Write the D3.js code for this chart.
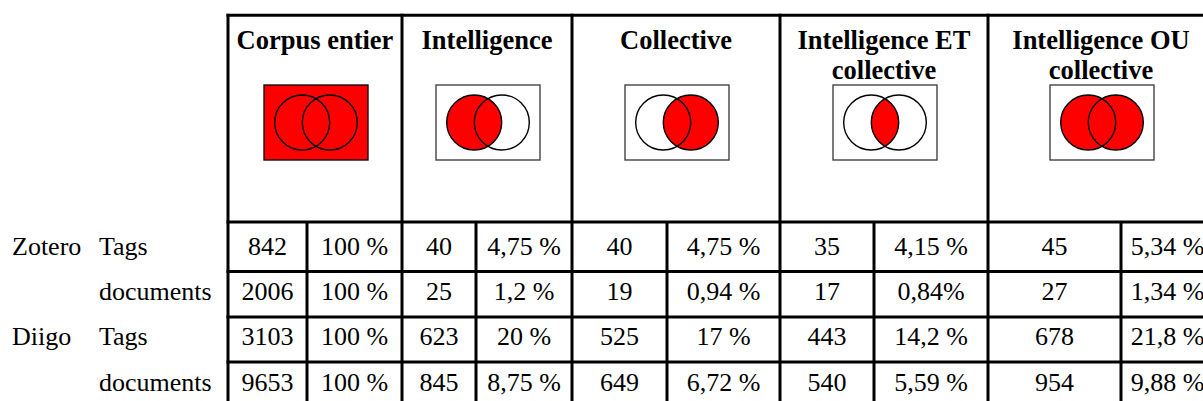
<!DOCTYPE html>
<html>
<head>
<meta charset="utf-8">
<script src="https://cdn.jsdelivr.net/npm/d3@7"></script>
<style>
  body { margin: 0; background: #fff; }
  text { font-family: "Liberation Serif", "Times New Roman", serif; fill: #000; }
</style>
</head>
<body>
<svg id="chart"></svg>
<script>
// column headers (one entry per line) and venn shading mode
const headers = [["Corpus entier"], ["Intelligence"], ["Collective"], ["Intelligence ET", "collective"], ["Intelligence OU", "collective"]];
const vennModes = ["all", "left", "right", "and", "or"];

// row labels
const sources = ["Zotero", "", "Diigo", ""];
const kinds = ["Tags", "documents", "Tags", "documents"];

// values: count + share, one entry per header column
const counts = [
    [842, 40, 40, 35, 45],
    [2006, 25, 19, 17, 27],
    [3103, 623, 525, 443, 678],
    [9653, 845, 649, 540, 954]
];
const shares = [
    ["100 %", "4,75 %", "4,75 %", "4,15 %", "5,34 %"],
    ["100 %", "1,2 %", "0,94 %", "0,84%", "1,34 %"],
    ["100 %", "20 %", "17 %", "14,2 %", "21,8 %"],
    ["100 %", "8,75 %", "6,72 %", "5,59 %", "9,88 %"]
];

const w = 1203, h = 401;
const svg = d3.select("#chart").attr("width", w).attr("height", h);

// table grid
const colEdges = [228, 402, 572, 780, 988, 1214];
const subEdges = [307, 476, 667, 874, 1121];
const tableTop = 15.3, headBottom = 222;
const rowEdges = [222, 271.5, 317, 362, 407.5];
const lw = 3;

const g = svg.append("g");

// horizontal lines
[tableTop, ...rowEdges].forEach(y => {
    g.append("line")
        .attr("x1", colEdges[0] - lw / 2).attr("x2", w + 20)
        .attr("y1", y).attr("y2", y)
        .attr("stroke", "#000").attr("stroke-width", lw);
});
// column lines
colEdges.forEach(x => {
    g.append("line")
        .attr("x1", x).attr("x2", x)
        .attr("y1", tableTop - lw / 2).attr("y2", h + 20)
        .attr("stroke", "#000").attr("stroke-width", lw);
});
subEdges.forEach(x => {
    g.append("line")
        .attr("x1", x).attr("x2", x)
        .attr("y1", headBottom).attr("y2", h + 20)
        .attr("stroke", "#000").attr("stroke-width", lw);
});

// headers
const defs = svg.append("defs");
headers.forEach((lines, i) => {
    const cx = (colEdges[i] + colEdges[i + 1]) / 2;
    const t = svg.append("text")
        .attr("text-anchor", "middle")
        .style("font-size", "26.5px")
        .style("font-weight", "bold");
    lines.forEach((ln, j) => {
        t.append("tspan").attr("x", cx).attr("y", 49 + j * 29.5).text(ln);
    });

    // venn diagram
    const vx = cx + 1, vy = 122.5;
    const rw = 104, rh = 75, r = 27.5, off = 13.8;
    const mode = vennModes[i];
    const vg = svg.append("g");
    vg.append("rect")
        .attr("x", vx - rw / 2).attr("y", vy - rh / 2)
        .attr("width", rw).attr("height", rh)
        .attr("fill", mode === "all" ? "#ff0000" : "#fff")
        .attr("stroke", mode === "all" ? "#111" : "#444")
        .attr("stroke-width", 1.4);
    const lx = vx - off, rx = vx + off;
    if (mode === "left" || mode === "or")
        vg.append("circle").attr("cx", lx).attr("cy", vy).attr("r", r).attr("fill", "#ff0000");
    if (mode === "right" || mode === "or")
        vg.append("circle").attr("cx", rx).attr("cy", vy).attr("r", r).attr("fill", "#ff0000");
    if (mode === "and") {
        const id = "clip" + i;
        defs.append("clipPath").attr("id", id)
            .append("circle").attr("cx", lx).attr("cy", vy).attr("r", r);
        vg.append("circle").attr("cx", rx).attr("cy", vy).attr("r", r)
            .attr("fill", "#ff0000").attr("clip-path", `url(#${id})`);
    }
    [lx, rx].forEach(c => {
        vg.append("circle").attr("cx", c).attr("cy", vy).attr("r", r)
            .attr("fill", "none").attr("stroke", "#000").attr("stroke-width", 1.4);
    });
});

// body rows
counts.forEach((row, i) => {
    const y = rowEdges[i + 1] - 17;
    svg.append("text").attr("x", 12).attr("y", y)
        .style("font-size", "26px").text(sources[i]);
    svg.append("text").attr("x", 99).attr("y", y)
        .style("font-size", "26px").text(kinds[i]);
    row.forEach((v, j) => {
        const a = colEdges[j], m = subEdges[j], b = colEdges[j + 1];
        svg.append("text").attr("x", (a + m) / 2).attr("y", y)
            .attr("text-anchor", "middle").style("font-size", "26px").text(v);
        svg.append("text").attr("x", (m + b) / 2).attr("y", y)
            .attr("text-anchor", "middle").style("font-size", "26px").text(shares[i][j]);
    });
});
</script>
</body>
</html>
